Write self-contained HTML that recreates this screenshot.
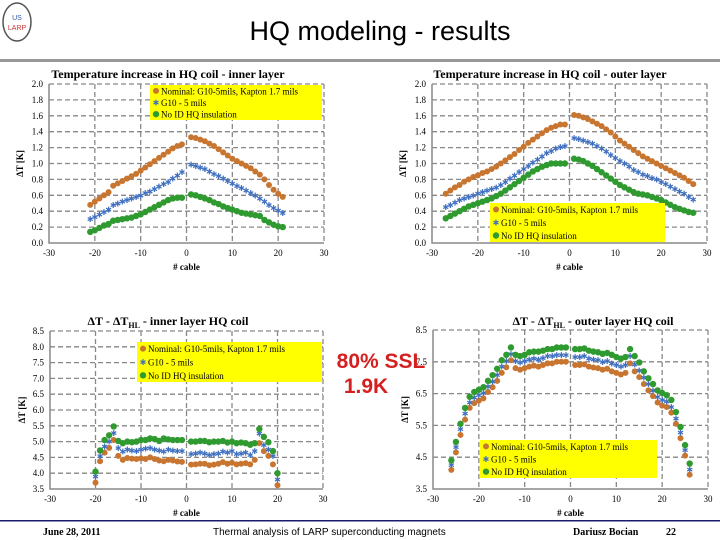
<!DOCTYPE html>
<html><head><meta charset="utf-8">
<style>
body{margin:0;width:720px;height:540px;background:#fff;position:relative;overflow:hidden;font-family:"Liberation Sans",sans-serif}
svg{position:absolute;left:0;top:0}
</style></head>
<body>
<svg id="s" width="720" height="540" viewBox="0 0 720 540" xmlns="http://www.w3.org/2000/svg">
<g>
<ellipse cx="17" cy="22" rx="14" ry="19" fill="none" stroke="#555" stroke-width="1.5"/>
<text x="17" y="20" font-size="7" fill="#3355aa" text-anchor="middle" font-family="Liberation Sans">US</text>
<text x="17" y="30" font-size="7" fill="#cc3333" text-anchor="middle" font-family="Liberation Sans">LARP</text>
</g>
<text x="380" y="40" font-size="27" text-anchor="middle" fill="#000">HQ modeling - results</text>
<rect x="0" y="59" width="720" height="3" fill="#999"/>
<rect x="0" y="520" width="720" height="1.5" fill="#1a1a6e"/>
<text x="43" y="535" font-size="10" font-weight="bold" font-family="Liberation Serif">June 28, 2011</text>
<text x="213" y="535" font-size="10">Thermal analysis of LARP superconducting magnets</text>
<text x="573" y="535" font-size="10" font-weight="bold" font-family="Liberation Serif">Dariusz Bocian</text>
<text x="666" y="535" font-size="10" font-weight="bold" font-family="Liberation Serif">22</text>
<g id="charts"></g>
<text x="381" y="368" font-size="21" font-weight="bold" fill="#d42020" text-anchor="middle">80% SSL</text>
<text x="366" y="393" font-size="21" font-weight="bold" fill="#d42020" text-anchor="middle">1.9K</text>
</svg>
<script>
// Chart 1: inner layer temperature increase
const c1xL=[-21,-20,-19,-18,-17,-16,-15,-14,-13,-12,-11,-10,-9,-8,-7,-6,-5,-4,-3,-2,-1];
const c1xR=[1,2,3,4,5,6,7,8,9,10,11,12,13,14,15,16,17,18,19,20,21];
const c1Nom=[.48,.52,.56,.60,.64,.72,.75,.78,.81,.84,.87,.91,.95,.99,1.03,1.07,1.11,1.15,1.19,1.22,1.24,1.33,1.32,1.30,1.28,1.25,1.22,1.18,1.14,1.10,1.06,1.03,1.00,.97,.94,.90,.86,.80,.73,.67,.62,.58];
const c1G10=[.30,.33,.36,.39,.42,.48,.50,.52,.54,.56,.58,.60,.63,.65,.68,.71,.74,.77,.81,.85,.89,.99,.97,.95,.93,.90,.87,.84,.81,.78,.75,.72,.69,.66,.63,.60,.56,.52,.48,.44,.41,.38];
const c1NoI=[.14,.16,.19,.22,.24,.28,.29,.30,.31,.32,.34,.36,.39,.42,.45,.48,.51,.54,.56,.57,.57,.61,.60,.58,.56,.54,.51,.49,.46,.44,.42,.40,.38,.37,.36,.35,.34,.29,.26,.23,.21,.20];
const c1Ticks=["0.0","0.2","0.4","0.6","0.8","1.0","1.2","1.4","1.6","1.8","2.0"];
// Chart 2: outer layer
const c2xL=[-27,-26,-25,-24,-23,-22,-21,-20,-19,-18,-17,-16,-15,-14,-13,-12,-11,-10,-9,-8,-7,-6,-5,-4,-3,-2,-1];
const c2xR=[1,2,3,4,5,6,7,8,9,10,11,12,13,14,15,16,17,18,19,20,21,22,23,24,25,26,27];
const c2Nom=[.62,.66,.70,.73,.77,.80,.83,.85,.88,.90,.93,.96,1.00,1.04,1.08,1.12,1.17,1.21,1.26,1.30,1.34,1.38,1.42,1.45,1.47,1.49,1.49,1.61,1.60,1.58,1.56,1.53,1.50,1.47,1.43,1.39,1.34,1.29,1.25,1.21,1.17,1.13,1.09,1.06,1.03,1.00,.97,.94,.91,.88,.85,.82,.78,.74];
const c2G10=[.45,.48,.51,.54,.56,.58,.60,.62,.64,.66,.68,.70,.73,.77,.81,.85,.89,.93,.97,1.01,1.05,1.09,1.13,1.16,1.19,1.21,1.22,1.32,1.31,1.29,1.27,1.25,1.22,1.19,1.15,1.11,1.07,1.03,1.00,.96,.92,.89,.86,.84,.82,.80,.77,.74,.71,.68,.65,.62,.58,.55];
const c2NoI=[.31,.34,.37,.40,.43,.46,.48,.50,.52,.54,.56,.59,.62,.66,.70,.74,.78,.82,.86,.90,.93,.96,.98,1.00,1.00,1.00,1.00,1.06,1.05,1.03,1.00,.97,.93,.89,.85,.81,.77,.73,.70,.67,.64,.62,.61,.60,.58,.56,.54,.51,.48,.45,.43,.41,.39,.38];
const c2Ticks=c1Ticks;
// Chart 3: dT - dT_HL inner
const c3xL=[-20,-19,-18,-17,-16,-15,-14,-13,-12,-11,-10,-9,-8,-7,-6,-5,-4,-3,-2,-1];
const c3xR=[1,2,3,4,5,6,7,8,9,10,11,12,13,14,15,16,17,18,19,20];
const c3Nom=[3.7,4.38,4.65,4.8,5.05,4.55,4.42,4.48,4.46,4.45,4.47,4.45,4.5,4.45,4.4,4.38,4.42,4.4,4.37,4.36,4.27,4.28,4.3,4.3,4.25,4.27,4.3,4.35,4.3,4.33,4.28,4.3,4.32,4.28,4.42,4.95,4.7,4.55,4.28,3.62];
const c3G10=[3.9,4.55,4.85,5.0,5.28,4.8,4.68,4.75,4.72,4.7,4.75,4.78,4.8,4.75,4.72,4.68,4.75,4.72,4.7,4.7,4.6,4.62,4.65,4.62,4.58,4.6,4.62,4.68,4.65,4.7,4.6,4.62,4.65,4.58,4.7,5.25,4.9,4.75,4.55,3.8];
const c3NoI=[4.05,4.72,5.05,5.2,5.48,5.02,4.95,5.0,4.98,5.0,5.05,5.05,5.1,5.08,5.02,5.1,5.07,5.05,5.05,5.05,5.0,5.0,5.02,5.02,4.98,5.0,5.0,5.02,4.97,5.0,4.95,4.97,4.95,4.9,4.95,5.4,5.15,4.98,4.7,4.0];
const c3Ticks=["3.5","4.0","4.5","5.0","5.5","6.0","6.5","7.0","7.5","8.0","8.5"];
// Chart 4: dT - dT_HL outer
const c4xL=[-26,-25,-24,-23,-22,-21,-20,-19,-18,-17,-16,-15,-14,-13,-12,-11,-10,-9,-8,-7,-6,-5,-4,-3,-2,-1];
const c4xR=[1,2,3,4,5,6,7,8,9,10,11,12,13,14,15,16,17,18,19,20,21,22,23,24,25,26];
const c4Nom=[4.1,4.65,5.2,5.68,6.05,6.2,6.28,6.35,6.55,6.7,6.9,7.15,7.33,7.55,7.3,7.25,7.3,7.35,7.38,7.35,7.4,7.45,7.45,7.5,7.5,7.5,7.4,7.4,7.42,7.35,7.32,7.3,7.25,7.28,7.2,7.15,7.1,7.15,7.45,7.2,7.02,6.8,6.6,6.42,6.22,6.12,6.08,5.9,5.55,5.1,4.55,3.95];
const c4G10=[4.25,4.82,5.38,5.88,6.22,6.38,6.45,6.52,6.72,6.88,7.08,7.35,7.52,7.75,7.52,7.48,7.52,7.58,7.6,7.58,7.62,7.68,7.68,7.72,7.72,7.72,7.65,7.65,7.68,7.6,7.58,7.55,7.5,7.52,7.45,7.4,7.35,7.4,7.68,7.42,7.22,7.0,6.8,6.6,6.4,6.3,6.25,6.08,5.72,5.28,4.72,4.12];
const c4NoI=[4.4,4.98,5.55,6.05,6.4,6.55,6.62,6.7,6.9,7.08,7.28,7.55,7.72,7.95,7.72,7.68,7.72,7.8,7.82,7.82,7.85,7.9,7.9,7.95,7.95,7.95,7.9,7.9,7.92,7.85,7.82,7.8,7.75,7.78,7.72,7.65,7.6,7.65,7.9,7.68,7.48,7.2,6.98,6.8,6.6,6.52,6.45,6.3,5.92,5.45,4.88,4.3];
const c4Ticks=["3.5","","4.5","","5.5","","6.5","","7.5","","8.5"];
const xTicks=["-30","-20","-10","0","10","20","30"];
const legendLabels=["Nominal: G10-5mils, Kapton 1.7 mils","G10 - 5 mils","No ID HQ insulation"];

const NS="http://www.w3.org/2000/svg";
const root=document.getElementById('charts');
function mk(tag,attrs,parent){const e=document.createElementNS(NS,tag);for(const k in attrs)e.setAttribute(k,attrs[k]);(parent||root).appendChild(e);return e;}
const COL=["#c87530","#3f6fc0","#2f9a2f"];
function marker(g,kind,x,y){
  let m;
  if(kind===1){m=mk('text',{x:x,y:y+3,'font-size':8,'text-anchor':'middle',fill:COL[1],'font-family':'DejaVu Sans'},g);m.textContent='✱';}
  else{m=mk('circle',{cx:x,cy:y,r:kind===0?3:3.2,fill:COL[kind]},g);}
  
  
}
function chart(cfg){
  const g=mk('g',{});
  
  
  const {x0,x1,y0,y1,ymin,ymax}=cfg;
  const sx=v=>x0+(v+30)/60*(x1-x0);
  const sy=v=>y1-(v-ymin)/(ymax-ymin)*(y1-y0);
  // grid
  const n=cfg.ticks.length;
  for(let i=0;i<n;i++){
    const v=ymin+i*(ymax-ymin)/(n-1), y=sy(v);
    if(i>0&&cfg.grid[i]){const l=mk('line',{x1:x0,x2:x1,y1:y,y2:y,stroke:'#888','stroke-width':1.3,'stroke-dasharray':'5,3'},g);}
    const t=mk('text',{x:x0-6,y:y+3,'font-size':9,'text-anchor':'end','font-family':'Liberation Serif'},g);
    t.textContent=cfg.ticks[i];
    
    
  }
  xTicks.forEach((s,i)=>{
    const v=-30+i*10,x=sx(v);
    if(i>0){const l=mk('line',{x1:x,x2:x,y1:y0,y2:y1,stroke:'#888','stroke-width':1.3,'stroke-dasharray':'5,3'},g);}
    const t=mk('text',{x:x,y:y1+13,'font-size':9,'text-anchor':'middle','font-family':'Liberation Serif'},g);
    t.textContent=s;
    
    
  });
  const ax=mk('path',{d:`M${x0} ${y0}V${y1}H${x1}`,fill:'none',stroke:'#888','stroke-width':1.5},g);
  
  
  const xs=cfg.xL.concat(cfg.xR);
  [cfg.nom,cfg.g10,cfg.noi].forEach((arr,k)=>{
    const sg=mk('g',{},g);
    
    
    arr.forEach((v,i)=>marker(sg,k,sx(xs[i]),sy(v)));
  });
  // titles
  const tt=mk('text',{x:cfg.tx,y:cfg.ty,'font-size':12,'font-weight':'bold','text-anchor':'middle','font-family':'Liberation Serif'},g);
  tt.innerHTML=cfg.title;
  
  
  const xt=mk('text',{x:(x0+x1)/2,y:y1+27,'font-size':9,'font-weight':'bold','text-anchor':'middle','font-family':'Liberation Serif'},g);
  xt.textContent='# cable';
  
  
  const yt=mk('text',{x:0,y:0,'font-size':9,'font-weight':'bold','text-anchor':'middle','font-family':'Liberation Serif',transform:`translate(${cfg.ylx},${(y0+y1)/2}) rotate(-90)`},g);
  yt.textContent='ΔT [K]';
  
  
  // legend
  const [lx,ly,lw,lh]=cfg.leg;
  const lg=mk('g',{},g);
  
  
  mk('rect',{x:lx,y:ly,width:lw,height:lh,fill:'#ffff00'},lg);
  legendLabels.forEach((s,k)=>{
    const yy=ly+lh*(k+0.5)/3;
    const eg=mk('g',{},lg);
    
    
    marker(eg,k,lx+6,yy);
    const t=mk('text',{x:lx+11,y:yy+3.5,'font-size':cfg.lfs,'font-family':'Liberation Serif'},eg);
    t.textContent=s;
  });
}
chart({name:'chart-inner-temperature',x0:49,x1:324,y0:84,y1:243,ymin:0,ymax:2,ticks:c1Ticks,grid:c1Ticks.map(()=>1),xL:c1xL,xR:c1xR,nom:c1Nom,g10:c1G10,noi:c1NoI,title:'Temperature increase in HQ coil - inner layer',tx:168,ty:78,ylx:23,leg:[150,85,172,35],lfs:9});
chart({name:'chart-outer-temperature',x0:432,x1:707,y0:84,y1:243,ymin:0,ymax:2,ticks:c2Ticks,grid:c2Ticks.map(()=>1),xL:c2xL,xR:c2xR,nom:c2Nom,g10:c2G10,noi:c2NoI,title:'Temperature increase in HQ coil - outer layer',tx:550,ty:78,ylx:406,leg:[490,203,175,39],lfs:9});
chart({name:'chart-inner-dt-hl',x0:50,x1:323,y0:331,y1:489,ymin:3.5,ymax:8.5,ticks:c3Ticks,grid:c3Ticks.map(()=>1),xL:c3xL,xR:c3xR,nom:c3Nom,g10:c3G10,noi:c3NoI,title:'ΔT - ΔT<tspan font-size="8" dy="3">HL</tspan><tspan dy="-3"> - inner layer HQ coil</tspan>',tx:168,ty:325,ylx:25,leg:[137,342,185,40],lfs:9});
chart({name:'chart-outer-dt-hl',x0:433,x1:708,y0:330,y1:489,ymin:3.5,ymax:8.5,ticks:c4Ticks,grid:c4Ticks.map(s=>s?1:0),xL:c4xL,xR:c4xR,nom:c4Nom,g10:c4G10,noi:c4NoI,title:'ΔT - ΔT<tspan font-size="8" dy="3">HL</tspan><tspan dy="-3"> - outer layer HQ coil</tspan>',tx:593,ty:325,ylx:408,leg:[480,440,177,38],lfs:9});
</script>
</body></html>
